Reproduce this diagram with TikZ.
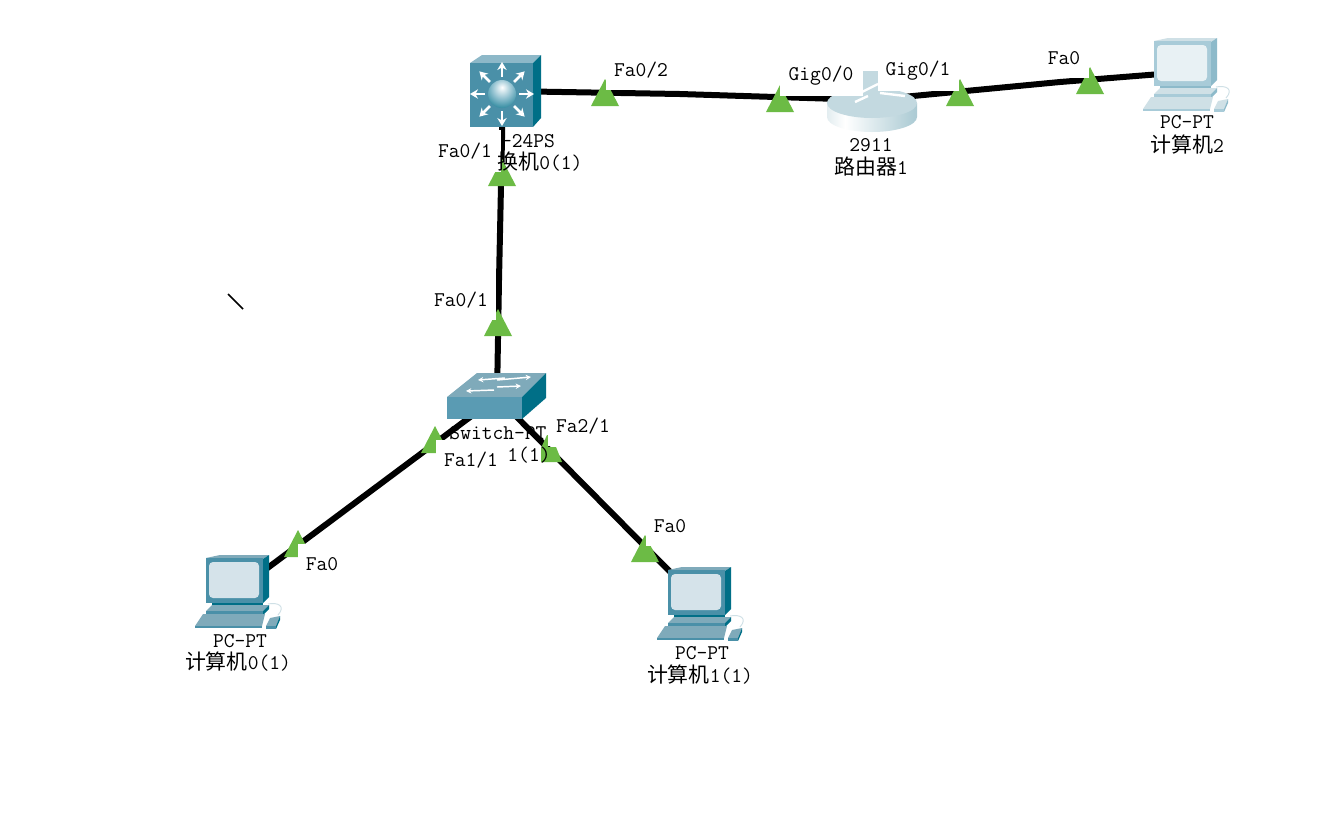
\documentclass[tikz,border=0pt]{standalone}
\usepackage{fontspec}
\usetikzlibrary{arrows.meta}
\newfontfamily\cjk{Noto Sans CJK SC}
\definecolor{portgreen}{HTML}{6CBB45}
\definecolor{nettop}{HTML}{8DB8C8}
\definecolor{netfront}{HTML}{4A90A8}
\definecolor{netside}{HTML}{006F87}
\definecolor{swtop}{HTML}{7FAABA}
\definecolor{swfront}{HTML}{5A9BB3}
\definecolor{pcscreen}{HTML}{D5E3EA}
\definecolor{lttop}{HTML}{CFE0E6}
\definecolor{ltfront}{HTML}{A8CBD8}
\definecolor{ltside}{HTML}{8DBACA}
\definecolor{ltscreen}{HTML}{E8F1F4}
\definecolor{ltkey}{HTML}{C3D9E0}
\definecolor{ballmid}{HTML}{8FC0CF}
\definecolor{rta}{HTML}{9CC0CA}
\definecolor{rtb}{HTML}{B4D0D8}
\definecolor{rtc}{HTML}{82B0BF}
\pgfdeclareradialshading{tealball}{\pgfpoint{0bp}{12bp}}{color(0bp)=(white);color(18bp)=(ballmid);color(42bp)=(netside);color(100bp)=(netside)}
\pgfdeclarehorizontalshading{rtbody}{100bp}{color(0bp)=(rta);color(35bp)=(white);color(70bp)=(rtb);color(100bp)=(rtc)}
\tikzset{
  anchorbox/.style={inner sep=0pt,minimum size=6pt},
  link/.style={line width=4.5pt,black},
  txt/.style={inner sep=0pt,font=\ttfamily\fontsize{15.7}{15.7}\selectfont},
  portbox/.style 2 args={txt,fill=white,minimum width=#1*0.75pt,minimum height=#2*0.75pt},
  whitearrow/.style={white,line width=2pt,-{Stealth[length=6pt,width=7pt]}},
  pics/porttri/.style={code={\fill[portgreen] (0,0)--(14,27)--(-14,27)--cycle;}},
  pics/pcicon/.style n args={4}{code={
    \fill[#1] (0,0)--(14,-3)--(63,-3)--(57,1)--cycle;
    \fill[#3] (57,1)--(63,-3)--(63,39)--(57,45)--cycle;
    \fill[#2] (0,0) rectangle (57,45);
    \fill[#4,rounded corners=3pt] (3,4) rectangle (53,40);
    \fill[#3] (6,45) rectangle (57,49);
    \fill[#1] (0,53)--(6,47)--(63,47)--(57,53)--cycle;
    \fill[#2] (0,53) rectangle (57,57);
    \fill[#3] (57,53)--(63,47)--(63,51)--(57,57)--cycle;
    \fill[#3] (7,57) rectangle (50,61);
    \draw[lttop,line width=0.7pt] (62,46) .. controls (72,44) and (80,48) .. (72,57);
    \fill[#1] (-11,68)--(-3,56)--(59,56)--(56,68)--cycle;
    \fill[#2] (-11,68)--(56,68)--(56,70)--(-11,70)--cycle;
    \fill[#1] (60,68)--(64,60)--(74,58)--(70,68)--cycle;
    \fill[#2] (60,68)--(70,68)--(70,71)--(60,71)--cycle;
    \fill[#3] (70,71)--(74,62)--(74,58)--(70,68)--cycle;
  }}
}
\begin{document}
\begin{tikzpicture}[x=0.75pt,y=-0.75pt]
\fill[white] (0,0) rectangle (1327,826);
\useasboundingbox (0,0) rectangle (1327,826);
% device anchors
\node[anchorbox] (mls) at (503,91) {};
\node[anchorbox] (rt) at (871,100) {};
\node[anchorbox] (sw) at (497,397) {};
\node[anchorbox] (pcA) at (238,590) {};
\node[anchorbox] (pcB) at (700,602) {};
\node[anchorbox] (pcC) at (1186,72) {};
\coordinate (bendA) at (680,94);
\coordinate (bendB) at (1060,82);
\coordinate (bendC) at (499,280);
\coordinate (tickA) at (228,294);
\coordinate (tickB) at (243,309);
% connectors
\draw[link] (mls.center) -- (bendA) -- (rt.center);
\draw[link] (rt.center) -- (bendB) -- (pcC.center);
\draw[link] (mls.center) -- (bendC) -- (sw.center);
\draw[link] (sw.center) -- (pcA.center);
\draw[link] (sw.center) -- (pcB.center);
\draw[black,line width=1.2pt] (tickA) -- (tickB);
% port markers
\pic at (605,79) {porttri};
\pic at (780,85) {porttri};
\pic at (960,79) {porttri};
\pic at (1090,67) {porttri};
\pic at (502,159) {porttri};
\pic at (498,309) {porttri};
\pic at (435,426) {porttri};
\pic at (298,530) {porttri};
\pic at (645,535) {porttri};
\fill[portgreen] (541,462)--(541,448)--(547,435)--(548,435)--(548,447)--(556,447)--(562,462)--cycle;
% multilayer switch
\fill[nettop] (470,63)--(482,55)--(541,55)--(533,63)--cycle;
\fill[netside] (533,63)--(541,55)--(541,118)--(533,127)--cycle;
\fill[netfront] (470,63) rectangle (533,127);
\foreach \a in {0,45,...,315}{
  \draw[whitearrow] (502,94) ++(\a:17) -- ++(\a:15);
}
\shade[shading=tealball] (502,94) circle (14);
% router
\fill[ltkey] (860,71) rectangle (880,100);
\shade[shading=rtbody] (827,103) -- (827,117) arc[start angle=180,end angle=0,x radius=45,y radius=15] -- (917,103) -- cycle;
\fill[ltkey] (872,103) ellipse [x radius=45,y radius=15];
\fill[ltkey] (860,71) rectangle (880,95);
\draw[white,line width=1.8pt] (855,102) -- (868,96);
\draw[white,line width=1.8pt] (880,93) -- (905,96);
\draw[white,line width=1.8pt] (862,92) -- (878,84);
% switch
\fill[swtop] (447,397)--(477,373)--(546,373)--(522,397)--cycle;
\fill[swfront] (447,397) rectangle (522,419);
\fill[netside] (522,397)--(546,373)--(546,398)--(522,419)--cycle;
\draw[white,line width=1.1pt,-{Stealth[length=4pt,width=4pt]}] (505,378) -- (478,380);
\draw[white,line width=1.1pt,-{Stealth[length=4pt,width=4pt]}] (497,380) -- (531,377);
\draw[white,line width=1.1pt,-{Stealth[length=4pt,width=4pt]}] (494,390) -- (466,391);
\draw[white,line width=1.1pt,-{Stealth[length=4pt,width=4pt]}] (497,387) -- (521,386);
% computers
\pic at (206,558) {pcicon={swtop}{netfront}{netside}{pcscreen}};
\pic at (668,570) {pcicon={swtop}{netfront}{netside}{pcscreen}};
\pic at (1154,41) {pcicon={lttop}{ltfront}{ltside}{ltscreen}};
% port labels
\node[portbox={72}{42}] (p1) at (465,151) {Fa0/1};
\node[portbox={70}{40}] (p2) at (641,70) {Fa0/2};
\node[portbox={83}{40}] (p3) at (821,76) {Gig0/0};
\node[portbox={81}{40}] (p4) at (918,71) {Gig0/1};
\node[portbox={49}{40}] (p5) at (1064,58) {Fa0};
\node[portbox={70}{40}] (p6) at (461,300) {Fa0/1};
\node[portbox={70}{40}] (p7) at (471,460) {Fa1/1};
\node[portbox={70}{40}] (p8) at (583,426) {Fa2/1};
\node[portbox={48}{40}] (p9) at (322,564) {Fa0};
\node[portbox={49}{40}] (p10) at (670,526) {Fa0};
% device labels
\node[txt] (n1) at (528,141) {-24PS};
\node[txt] (n2) at (540,162) {{\cjk 换机}0(1)};
\node[txt] (n3) at (871,145) {2911};
\node[txt] (n4) at (871,167) {{\cjk 路由器}1};
\node[txt] (n5) at (1187,122) {PC-PT};
\node[txt] (n6) at (1187,144) {{\cjk 计算机}2};
\node[txt] (n7) at (498,433) {Switch-PT};
\node[txt] (n8) at (529,455) {1(1)};
\node[txt] (n9) at (240,641) {PC-PT};
\node[txt] (n10) at (238,662) {{\cjk 计算机}0(1)};
\node[txt] (n11) at (702,653) {PC-PT};
\node[txt] (n12) at (700,675) {{\cjk 计算机}1(1)};
\end{tikzpicture}
\end{document}
